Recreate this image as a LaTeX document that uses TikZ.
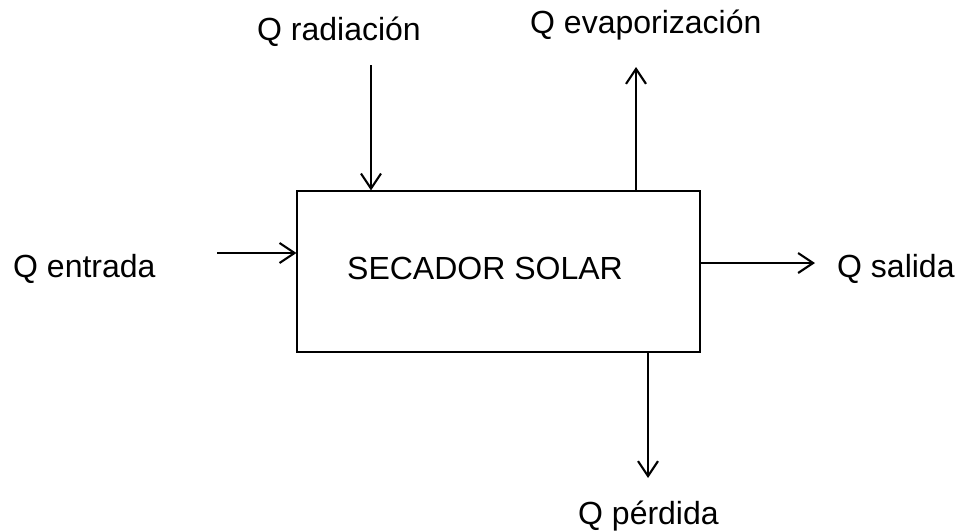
\documentclass[tikz,border=0pt]{standalone}
\usepackage{fontspec}
\setmainfont{Liberation Sans}
\usetikzlibrary{arrows.meta}

\tikzset{
  flecha/.style={line width=2.1pt,-{Straight Barb[length=15pt,width=20pt,line width=2.1pt]}},
  rotulo/.style={font=\fontsize{32}{38}\selectfont, inner sep=0pt, anchor=base west}
}

\begin{document}
\begin{tikzpicture}[x=1pt,y=-1pt]

\useasboundingbox (0,0) rectangle (958,531);

% el secador
\node[draw, line width=1.1pt, minimum width=403pt, minimum height=161pt, inner sep=0pt] (secador) at (498.5,271.5) {};
\node[rotulo] (titulo) at (347,279) {SECADOR SOLAR};

% rotulos
\node[rotulo] (radiacion) at (257,40) {Q radiación};
\node[rotulo] (evapor) at (530,33) {Q evaporización};
\node[rotulo] (entrada) at (13,277) {Q entrada};
\node[rotulo] (salida) at (837,277) {Q salida};
\node[rotulo] (perdida) at (578,524) {Q pérdida};

% extremos libres
\coordinate (c_rad) at (371,65);
\coordinate (c_eva) at (636,67);
\coordinate (c_ent) at (217,253);
\coordinate (c_sal) at (815,263);
\coordinate (c_per) at (648,478);

\draw[flecha] (c_rad) -- (c_rad |- secador.north);
\draw[flecha] (c_eva |- secador.north) -- (c_eva);
\draw[flecha] (c_ent) -- (secador.west |- c_ent);
\draw[flecha] (secador.east |- c_sal) -- (c_sal);
\draw[flecha] (c_per |- secador.south) -- (c_per);

\end{tikzpicture}
\end{document}
